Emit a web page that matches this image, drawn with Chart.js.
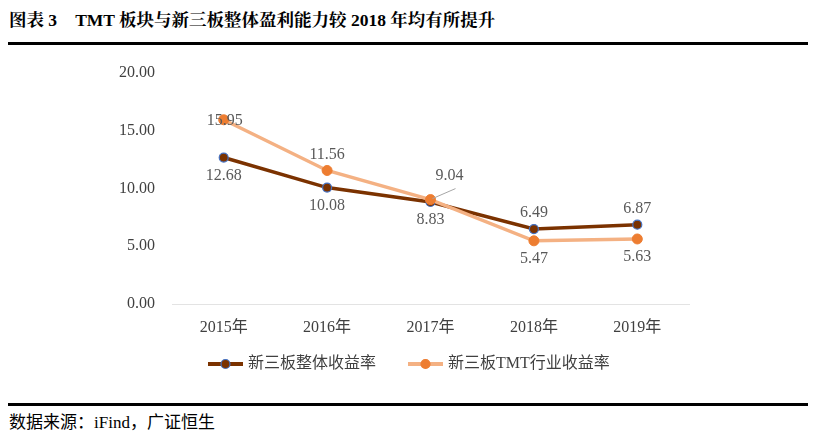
<!DOCTYPE html>
<html><head><meta charset="utf-8">
<script src="https://cdn.jsdelivr.net/npm/chart.js@4"></script>
<style>
html,body{margin:0;padding:0;background:#fff;width:816px;height:444px;overflow:hidden;position:relative;}
#title{position:absolute;left:9px;top:6px;font-family:"Liberation Serif","Noto Serif CJK SC","Noto Sans CJK SC",serif;font-weight:bold;font-size:17.5px;color:#000;white-space:nowrap;}
.rule{position:absolute;left:8px;width:800px;background:#000;}
#src{position:absolute;left:9px;top:408px;font-family:"Liberation Serif","Noto Sans CJK SC",serif;font-size:17px;color:#000;white-space:nowrap;}
canvas{position:absolute;left:0;top:0;}
</style></head>
<body>
<div id="title">图表 3<span style="display:inline-block;width:18px"></span>TMT 板块与新三板整体盈利能力较 2018 年均有所提升</div>
<div class="rule" style="top:42px;height:3px;"></div>
<div class="rule" style="top:403px;height:3px;"></div>
<div id="src">数据来源：iFind，广证恒生</div>
<canvas id="c" width="816" height="444"></canvas>
<script>
const categories = ["2015年","2016年","2017年","2018年","2019年"];
const seriesNames = ["新三板整体收益率","新三板TMT行业收益率"];
const overall = [12.68, 10.08, 8.83, 6.49, 6.87];
const tmt = [15.95, 11.56, 9.04, 5.47, 5.63];
const yTicks = [0, 5, 10, 15, 20];
// label placement: 'above' | 'below' | 'center' | 'leader'
const overallLabelPos = ["below","below","below","above","above"];
const tmtLabelPos = ["center","above","leader","below","below"];

const serif = '"Liberation Serif", "Noto Sans CJK SC", serif';

const labelPlugin = {
  id:'labels',
  afterDatasetsDraw(chart){
    const ctx = chart.ctx;
    ctx.save();
    ctx.font = '16px ' + serif;
    ctx.fillStyle = '#595959';
    ctx.textAlign = 'center';
    ctx.textBaseline = 'middle';
    const posArrs = [overallLabelPos, tmtLabelPos];
    chart.data.datasets.forEach((ds, di) => {
      const meta = chart.getDatasetMeta(di);
      meta.data.forEach((pt, i) => {
        const txt = ds.data[i].toFixed(2);
        const p = posArrs[di][i];
        let x = pt.x, y = pt.y;
        if (p === 'above') y -= 16;
        else if (p === 'below') y += 18;
        else if (p === 'leader') {
          ctx.strokeStyle = '#a6a6a6'; ctx.lineWidth = 1;
          ctx.beginPath(); ctx.moveTo(x+2, y-1); ctx.lineTo(x+25, y-11); ctx.stroke();
          x += 19; y -= 24;
        } else if (p === 'center') { x += 1; y += 1; }
        ctx.fillText(txt, x, y);
      });
    });
    ctx.restore();
  }
};

const legendPlugin = {
  id:'customLegend',
  afterDraw(chart){
    const ctx = chart.ctx;
    ctx.save();
    const y = 364;
    const items = [
      {x:208, name:seriesNames[0], line:'#7B3200', fill:'#7B3200', border:'#4472C4'},
      {x:408, name:seriesNames[1], line:'#F4B183', fill:'#ED7D31', border:'#ED7D31'}
    ];
    items.forEach(it => {
      ctx.strokeStyle = it.line; ctx.lineWidth = 4; ctx.lineCap='butt';
      ctx.beginPath(); ctx.moveTo(it.x, y); ctx.lineTo(it.x+35, y); ctx.stroke();
      ctx.beginPath(); ctx.arc(it.x+17.5, y, 4.5, 0, Math.PI*2);
      ctx.fillStyle = it.fill; ctx.fill();
      ctx.lineWidth = 1.2; ctx.strokeStyle = it.border; ctx.stroke();
      ctx.fillStyle = '#404040';
      ctx.font = '16px ' + serif;
      ctx.textAlign='left'; ctx.textBaseline='middle';
      ctx.fillText(it.name, it.x+40, y);
    });
    ctx.restore();
  }
};

new Chart(document.getElementById('c'), {
  type:'line',
  data:{
    labels: categories,
    datasets:[
      {label:seriesNames[0], data:overall, borderColor:'#7B3200', backgroundColor:'#7B3200',
       borderWidth:3.5, pointRadius:4.5, pointBackgroundColor:'#7B3200', pointBorderColor:'#4472C4', pointBorderWidth:1.2, tension:0, order:2},
      {label:seriesNames[1], data:tmt, borderColor:'#F4B183', backgroundColor:'#ED7D31',
       borderWidth:3.5, pointRadius:5, pointBackgroundColor:'#ED7D31', pointBorderColor:'#ED7D31', pointBorderWidth:1, tension:0, order:1}
    ]
  },
  options:{
    responsive:false, animation:false, devicePixelRatio:1,
    layout:{padding:{top:73,right:127,left:0,bottom:0}},
    plugins:{legend:{display:false}, tooltip:{enabled:false}},
    scales:{
      x:{
        offset:true,
        grid:{display:false, drawTicks:false, offset:true}, border:{display:true, color:'#e3e3e3', width:1},
        ticks:{color:'#404040', font:{size:16, family:serif}, padding:14},
        afterFit(s){ s.height = 140; }
      },
      y:{
        min:0, max:20,
        afterBuildTicks(s){ s.ticks = yTicks.map(v=>({value:v})); },
        grid:{display:false, drawTicks:false}, border:{display:false},
        ticks:{color:'#404040', font:{size:16, family:serif}, padding:17, callback:v=>v.toFixed(2)},
        afterFit(s){ s.width = 172; }
      }
    }
  },
  plugins:[labelPlugin, legendPlugin]
});
</script>
</body></html>
